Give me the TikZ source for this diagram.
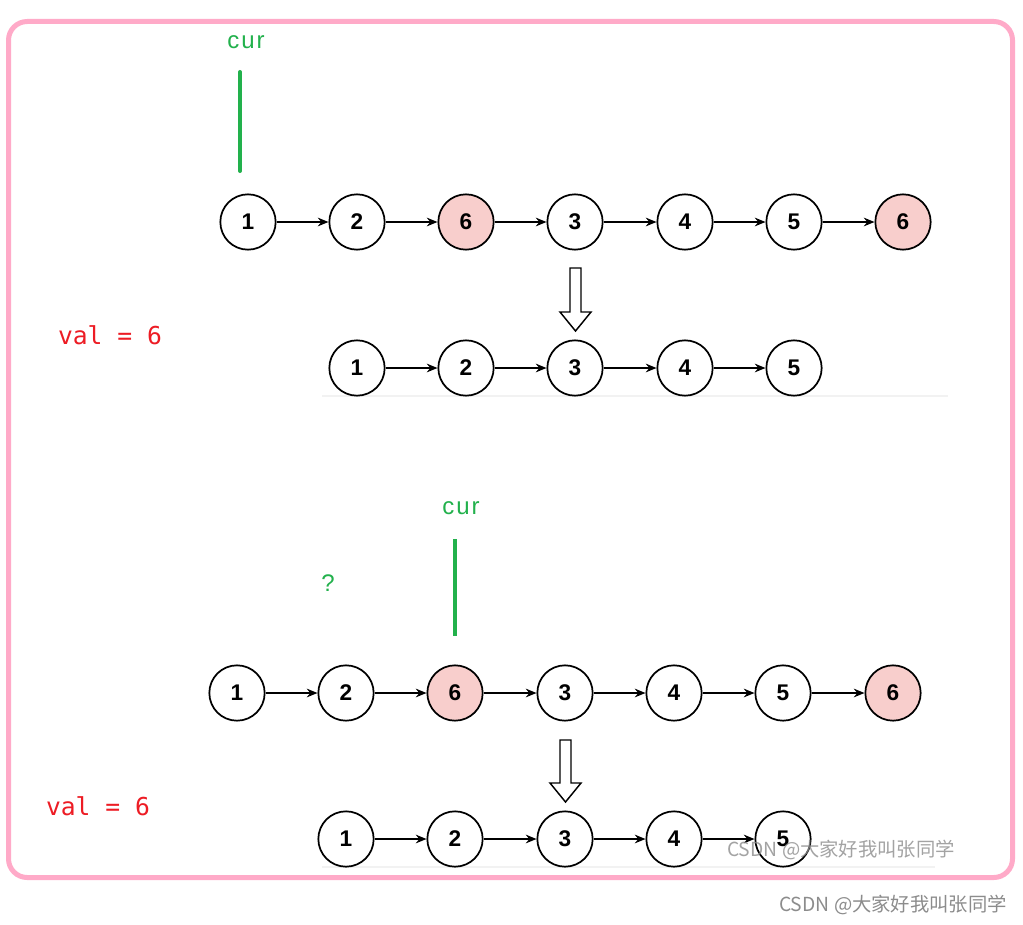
\documentclass[tikz,border=0pt]{standalone}
\usepackage{fontspec}
\setmainfont{Liberation Sans}
\newfontfamily\monof{DejaVu Sans Mono}
\newfontfamily\curf[LetterSpace=8]{Liberation Sans}
\newfontfamily\cjkf{Noto Sans CJK SC}
\usetikzlibrary{arrows.meta}
\definecolor{curgreen}{RGB}{34,177,76}
\definecolor{valred}{RGB}{237,28,36}
\definecolor{framepink}{RGB}{255,170,200}
\definecolor{nodepink}{RGB}{248,206,204}
\begin{document}
\begin{tikzpicture}[x=0.75pt,y=-0.75pt,
  ln/.style={circle,draw=black,line width=1.3pt,minimum size=41.5pt,inner sep=0pt,fill=white,font=\fontsize{17}{19}\selectfont\bfseries},
  hl/.style={ln,fill=nodepink},
  link/.style={-{Stealth[length=8pt,width=6.5pt]},line width=1.05pt},
  ptr/.style={curgreen,line width=3pt,line cap=round},
  curlbl/.style={text=curgreen,font=\curf\fontsize{18}{20}\selectfont,inner sep=0pt},
  qlbl/.style={text=curgreen,font=\curf\fontsize{18}{20}\selectfont,inner sep=0pt},
  vallbl/.style={text=valred,font=\monof\fontsize{18.5}{20}\selectfont,inner sep=0pt},
  wm/.style={text=black!45,font=\cjkf\fontsize{14.5}{16}\selectfont,inner sep=0pt},
  hollow/.style={draw=black,line width=1.1pt,fill=white,line join=miter},
  sep/.style={draw=black!5,line width=0.8pt}
]
\useasboundingbox (0,0) rectangle (1023,924);
\fill[white] (0,0) rectangle (1023,924);
% frame
\draw[framepink,line width=3.75pt,rounded corners=14pt] (8.5,21.5) rectangle (1012.5,877.5);

% ---------- top part ----------
\node[curlbl] (cur1) at (246,42) {cur};
\coordinate (p1t) at (240,72);
\coordinate (p1b) at (240,171);
\draw[ptr] (p1t) -- (p1b);

\node[ln] (a1) at (248,222) {1};
\node[ln] (a2) at (357,222) {2};
\node[hl] (a3) at (466,222) {6};
\node[ln] (a4) at (575,222) {3};
\node[ln] (a5) at (685,222) {4};
\node[ln] (a6) at (794,222) {5};
\node[hl] (a7) at (903,222) {6};
\foreach \i/\j in {a1/a2,a2/a3,a3/a4,a4/a5,a5/a6,a6/a7} \draw[link] (\i) -- (\j);

\draw[hollow] (570,268) -- (581,268) -- (581,312) -- (591,312) -- (575.5,331) -- (560,312) -- (570,312) -- cycle;

\node[vallbl] (val1) at (110,335) {val = 6};

\draw[sep] (322,396) -- (948,396);
\node[ln] (b1) at (357,368) {1};
\node[ln] (b2) at (466,368) {2};
\node[ln] (b3) at (575,368) {3};
\node[ln] (b4) at (685,368) {4};
\node[ln] (b5) at (794,368) {5};
\foreach \i/\j in {b1/b2,b2/b3,b3/b4,b4/b5} \draw[link] (\i) -- (\j);

% ---------- bottom part ----------
\node[curlbl] (cur2) at (461,508) {cur};
\coordinate (p2t) at (455,539);
\coordinate (p2b) at (455,636);
\draw[ptr,line cap=butt] (p2t) -- (p2b);
\node[qlbl] (q) at (328,583) {?};

\node[ln] (c1) at (237,693) {1};
\node[ln] (c2) at (346,693) {2};
\node[hl] (c3) at (455,693) {6};
\node[ln] (c4) at (565,693) {3};
\node[ln] (c5) at (674,693) {4};
\node[ln] (c6) at (783,693) {5};
\node[hl] (c7) at (893,693) {6};
\foreach \i/\j in {c1/c2,c2/c3,c3/c4,c4/c5,c5/c6,c6/c7} \draw[link] (\i) -- (\j);

\draw[hollow] (560,740) -- (571,740) -- (571,783) -- (581,783) -- (565.5,802) -- (550,783) -- (560,783) -- cycle;

\node[vallbl] (val2) at (98,806) {val = 6};

\draw[sep] (322,867) -- (935,867);
\node[ln] (d1) at (346,839) {1};
\node[ln] (d2) at (455,839) {2};
\node[ln] (d3) at (565,839) {3};
\node[ln] (d4) at (674,839) {4};
\node[ln] (d5) at (783,839) {5};
\foreach \i/\j in {d1/d2,d2/d3,d3/d4,d4/d5} \draw[link] (\i) -- (\j);

% watermarks
\node[wm,opacity=0.8] (wm1) at (841,850) {CSDN @大家好我叫张同学};
\node[wm] (wm2) at (893,905) {CSDN @大家好我叫张同学};
\end{tikzpicture}
\end{document}
